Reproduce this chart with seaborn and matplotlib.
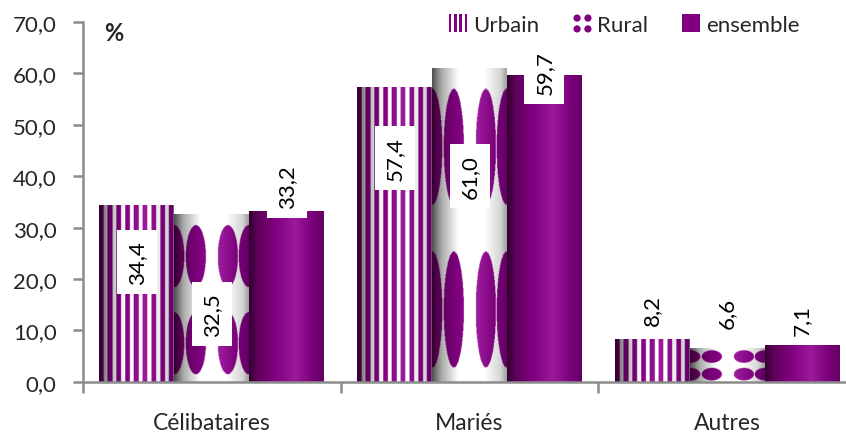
import numpy as np
import pandas as pd
import seaborn as sns
import matplotlib.pyplot as plt
from matplotlib.colors import LinearSegmentedColormap
from matplotlib.path import Path
from matplotlib.lines import Line2D
from matplotlib.ticker import FuncFormatter

categories = ['Célibataires', 'Mariés', 'Autres']
series = ['Urbain', 'Rural', 'ensemble']
urbain = [34.4, 57.4, 8.2]
rural = [32.5, 61.0, 6.6]
ensemble = [33.2, 59.7, 7.1]
yticks = [0, 10, 20, 30, 40, 50, 60, 70]

# where the value labels sit (data units), per series
label_y = [[23.3, 43.6, 14.0],
           [13.2, 40.1, 13.4],
           [38.1, 60.3, 12.1]]

PURPLE = '#800080'

sns.set_style('white')
plt.rcParams['font.family'] = ['Lato', 'DejaVu Sans']

df = pd.DataFrame({'cat': categories * 3,
                   'serie': np.repeat(series, 3),
                   'val': urbain + rural + ensemble})

fig, ax = plt.subplots(figsize=(8.46, 4.35), dpi=100)
fig.subplots_adjust(left=0.098, right=1.012, bottom=0.12, top=0.947)

sns.barplot(data=df, x='cat', y='val', hue='serie', palette=[PURPLE] * 3,
            width=0.872, gap=0, errorbar=None, legend=False, ax=ax)

# textures for the "cylinder" bars
purple_cmap = LinearSegmentedColormap.from_list('p', [
    (0, '#33002e'), (0.1, '#5c0058'), (0.35, '#800080'),
    (0.62, '#9c1a9c'), (0.85, '#7a007a'), (1, '#640064')])
gray_cmap = LinearSegmentedColormap.from_list('g', [
    (0, '#505050'), (0.12, '#a8a8a8'), (0.35, '#ffffff'),
    (0.7, '#ffffff'), (0.92, '#d4d4d4'), (1, '#a0a0a0')])

W, H = 160, 320
u = np.linspace(0, 1, W)
v = np.linspace(0, 1, H)
U, V = np.meshgrid(u, v)
purple_img = np.broadcast_to(purple_cmap(u)[:, :3], (H, W, 3)).copy()
gray_img = np.broadcast_to(gray_cmap(u)[:, :3], (H, W, 3)).copy()

stripes = ((U * 8.5 + 0.05) % 1) < 0.55
img_urbain = np.where(stripes[..., None], purple_img, gray_img)

blobs = np.zeros_like(U, dtype=bool)
for cx in [0.0, 0.29, 0.72, 1.0]:
    for cy in [0.25, 0.77]:
        blobs |= ((U - cx) / 0.135) ** 2 + ((V - cy) / 0.185) ** 2 <= 1
img_rural = np.where(blobs[..., None], purple_img, gray_img)

textures = [img_urbain, img_rural, purple_img]

for i, cont in enumerate(ax.containers):
    for j, bar in enumerate(cont):
        x0, w, h = bar.get_x(), bar.get_width(), bar.get_height()
        bar.set_alpha(0)
        ax.imshow(textures[i], extent=(x0, x0 + w, 0, h), aspect='auto',
                  origin='upper', interpolation='bilinear', zorder=2)
        txt = f'{h:.1f}'.replace('.', ',')
        ax.text(x0 + w / 2, label_y[i][j], txt, rotation=90, ha='center',
                va='center', fontsize=16, color='black', zorder=4,
                bbox=dict(boxstyle='square,pad=0.45', fc='white', ec='none'))

ax.set_xlim(-0.5, 2.5)
ax.set_ylim(0, 70)
ax.set_yticks(yticks)
ax.yaxis.set_major_formatter(FuncFormatter(lambda val, pos: f'{val:.1f}'.replace('.', ',')))
ax.set_xlabel('')
ax.set_ylabel('')

sns.despine(ax=ax)
for s in ['left', 'bottom']:
    ax.spines[s].set_color('#8c8c8c')
    ax.spines[s].set_linewidth(1.8)
    ax.spines[s].set_zorder(5)

ax.tick_params(axis='y', length=7, width=1.8, color='#8c8c8c', labelsize=16,
               pad=12, left=True)
ax.tick_params(axis='x', which='major', length=0, labelsize=16.5, pad=22)
ax.set_xticks([-0.5, 0.5, 1.5, 2.5], minor=True)
ax.tick_params(axis='x', which='minor', length=8, width=1.8, color='#8c8c8c',
               bottom=True)

fig.text(0.123, 0.95, '%', fontsize=17, fontweight='bold', va='top')


# legend icons
def rect(x0, y0, w, h):
    return Path([(x0, y0), (x0 + w, y0), (x0 + w, y0 + h), (x0, y0 + h), (x0, y0)],
                [Path.MOVETO, Path.LINETO, Path.LINETO, Path.LINETO, Path.CLOSEPOLY])


stripe_marker = Path.make_compound_path(*[rect(-0.5 + k * 0.29, -0.5, 0.13, 1.0) for k in range(4)])
dot_marker = Path.make_compound_path(*[Path.circle((cx, cy), 0.2)
                                       for cx in (-0.3, 0.3) for cy in (-0.3, 0.3)])

handles = [
    Line2D([0], [0], ls='none', marker=stripe_marker, markersize=13,
           markerfacecolor=PURPLE, markeredgewidth=0),
    Line2D([0], [0], ls='none', marker=dot_marker, markersize=13,
           markerfacecolor=PURPLE, markeredgewidth=0),
    Line2D([0], [0], ls='none', marker='s', markersize=13,
           markerfacecolor=PURPLE, markeredgewidth=0),
]
fig.legend(handles, series, loc='center', bbox_to_anchor=(0.738, 0.94), ncol=3,
           frameon=False, fontsize=16, handlelength=0.8, handletextpad=0.3,
           columnspacing=1.5)

fig.savefig('out.png', dpi=100)
